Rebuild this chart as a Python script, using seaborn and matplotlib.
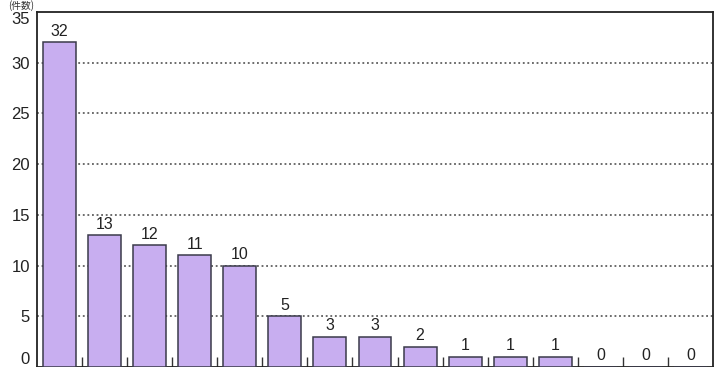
import matplotlib
matplotlib.use("Agg")
import matplotlib.pyplot as plt
import seaborn as sns
import pandas as pd
import numpy as np

categories = [f"C{i}" for i in range(1, 16)]
values = [32, 13, 12, 11, 10, 5, 3, 3, 2, 1, 1, 1, 0, 0, 0]
yticks = [0, 5, 10, 15, 20, 25, 30, 35]

sns.set_theme(style="white")
plt.rcParams['font.family'] = ['Liberation Sans', 'Noto Sans CJK JP', 'DejaVu Sans']

df = pd.DataFrame({"cat": categories, "val": values})

fig = plt.figure(figsize=(7.23, 3.67), dpi=100)
ax = fig.add_axes([37/723, 0.0, (713-37)/723, (367-12)/367])

sns.barplot(data=df, x="cat", y="val", ax=ax, color="#c8aef0", saturation=1,
            width=0.73, edgecolor="#3a3a4a", linewidth=1.1, zorder=3)

ax.set_ylim(0, 35)
ax.set_xlim(-0.5, len(categories) - 0.5)
ax.set_xlabel("")
ax.set_ylabel("")
ax.set_xticks([])
ax.set_xticks(np.arange(0.5, len(categories) - 1, 1), minor=True)
ax.tick_params(axis="x", which="minor", direction="in", length=7, width=1, color="#333333", bottom=True)

ax.set_yticks(yticks)
ax.set_yticklabels([str(t) for t in yticks], fontsize=12, color="#222222")
ax.tick_params(axis="y", length=0, pad=5)
labs = ax.get_yticklabels()
labs[0].set_verticalalignment("bottom")
labs[-1].set_verticalalignment("top")

for t in yticks[1:-1]:
    ax.axhline(t, color="#444444", linestyle=(0, (1.2, 1.8)), linewidth=1.1, zorder=1)

for s in ax.spines.values():
    s.set_color("#222222")
    s.set_linewidth(1.3)

for i, v in enumerate(values):
    ax.text(i, v + 0.35, str(v), ha="center", va="bottom", fontsize=11.5, color="#222222", zorder=4)

fig.text(8/723, 1.0, "(件数)", ha="left", va="top", fontsize=7,
         family=['Noto Sans CJK JP', 'DejaVu Sans'], color="#333333")

fig.savefig("out.png", dpi=100)
